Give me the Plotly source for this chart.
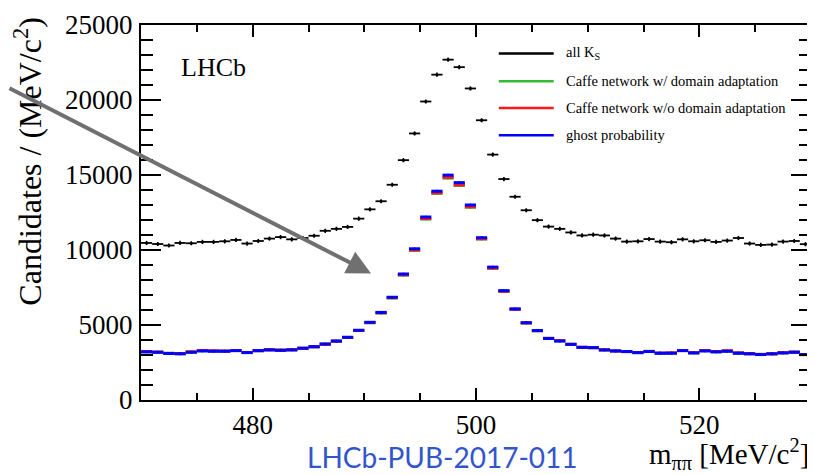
import plotly.graph_objects as go

# ---- data -------------------------------------------------------------
bin_low = 470.0
bin_width = 1.0
n_bins = 60
bin_centers = [bin_low + bin_width * (i + 0.5) for i in range(n_bins)]

all_ks = [10470, 10400, 10300, 10470, 10450, 10540, 10540, 10580, 10670, 10430,
          10600, 10760, 10860, 10710, 10800, 10950, 11280, 11410, 11540, 12090,
          12710, 13250, 14350, 15990, 17770, 19900, 21690, 22690, 22190, 20770,
          18650, 16360, 14730, 13550, 12650, 11990, 11560, 11410, 11170, 10970,
          11020, 10970, 10760, 10560, 10580, 10730, 10560, 10520, 10710, 10580,
          10650, 10540, 10630, 10800, 10430, 10340, 10360, 10560, 10600, 10390]

caffe_da = [3220, 3190, 3110, 3090, 3200, 3290, 3270, 3260, 3300, 3170,
            3290, 3350, 3320, 3350, 3450, 3550, 3720, 3920, 4170, 4630,
            5150, 5800, 6800, 8320, 9970, 12060, 13770, 14790, 14300, 12850,
            10730, 8780, 7240, 6050, 5140, 4620, 4110, 3950, 3710, 3510,
            3490, 3340, 3270, 3230, 3160, 3240, 3120, 3130, 3300, 3150,
            3290, 3220, 3270, 3130, 3090, 3040, 3080, 3150, 3190, 3030]

caffe_noda = [3230, 3190, 3110, 3100, 3210, 3300, 3280, 3260, 3300, 3170,
              3290, 3350, 3330, 3350, 3450, 3550, 3720, 3920, 4170, 4630,
              5160, 5810, 6820, 8350, 10000, 12100, 13810, 14840, 14340, 12880,
              10750, 8790, 7250, 6050, 5140, 4620, 4110, 3960, 3710, 3510,
              3490, 3340, 3270, 3230, 3160, 3240, 3120, 3140, 3300, 3150,
              3300, 3230, 3280, 3140, 3090, 3040, 3080, 3150, 3190, 3030]

ghost_prob = [3210, 3185, 3100, 3080, 3185, 3270, 3250, 3250, 3290, 3160,
              3290, 3340, 3310, 3340, 3450, 3550, 3730, 3930, 4180, 4650,
              5180, 5840, 6850, 8400, 10080, 12200, 13920, 14990, 14490, 13000,
              10820, 8860, 7290, 6070, 5150, 4630, 4100, 3930, 3710, 3510,
              3490, 3340, 3270, 3230, 3160, 3230, 3120, 3120, 3290, 3140,
              3270, 3210, 3250, 3120, 3080, 3030, 3080, 3140, 3185, 3030]

legend_labels = ["all K<sub>S</sub>",
                 "Caffe network w/ domain adaptation",
                 "Caffe network w/o domain adaptation",
                 "ghost probability"]
x_ticks = [480, 500, 520]

# ---- styling ----------------------------------------------------------
BLACK = "#000000"
GREEN = "#33bb33"
RED = "#ff1a1a"
BLUE = "#0000ff"
SERIF = "Liberation Serif"

fig = go.Figure()


def hist_trace(y, color, thick, ysize, msize):
    return go.Scatter(
        x=bin_centers, y=y, mode="markers",
        marker=dict(size=msize, color=color, symbol="circle"),
        error_x=dict(type="constant", value=bin_width / 2, width=0,
                     thickness=thick, color=color),
        error_y=dict(type="constant", value=ysize, width=0,
                     thickness=1.5, color=color),
        hoverinfo="x+y", showlegend=False)


fig.add_trace(hist_trace(all_ks, BLACK, 1.8, 140, 3))
fig.add_trace(hist_trace(caffe_da, GREEN, 3, 90, 2))
fig.add_trace(hist_trace(caffe_noda, RED, 3, 90, 2))
fig.add_trace(hist_trace(ghost_prob, BLUE, 3, 90, 2))

# the page body adds an 8px offset, so the figure is sized to fill the window
fig.update_layout(
    width=807, height=467,
    margin=dict(l=133, r=2, t=11, b=75),
    plot_bgcolor="white", paper_bgcolor="white",
    showlegend=False,
    font=dict(family=SERIF, color=BLACK),
)

fig.update_xaxes(
    range=[470, 530], tickvals=x_ticks, ticks="inside", ticklen=12,
    tickwidth=1.5, tickcolor=BLACK,
    minor=dict(dtick=5, tick0=470, ticks="inside", ticklen=7,
               tickwidth=1.5, tickcolor=BLACK),
    showline=True, linewidth=2, linecolor=BLACK, mirror="ticks",
    showgrid=False, zeroline=False,
    tickfont=dict(family=SERIF, size=27, color=BLACK),
    ticklabelstandoff=0, ticklabeloverflow="allow",
)
fig.update_yaxes(
    range=[0, 25000], dtick=5000, tickformat="d", ticks="inside",
    ticklen=20, tickwidth=1.5, tickcolor=BLACK,
    minor=dict(dtick=1000, ticks="inside", ticklen=12,
               tickwidth=1.5, tickcolor=BLACK),
    showline=True, linewidth=2, linecolor=BLACK, mirror="ticks",
    showgrid=False, zeroline=False,
    tickfont=dict(family=SERIF, size=27, color=BLACK),
    ticklabelstandoff=1, ticklabeloverflow="allow",
)

# ---- axis titles, labels ------------------------------------------------
fig.add_annotation(
    text="Candidates / (MeV/c<sup>2</sup>)", textangle=-90,
    xref="paper", yref="paper", x=-0.169, y=0.635,
    xanchor="center", yanchor="middle", showarrow=False,
    font=dict(family=SERIF, size=32, color=BLACK))
fig.add_annotation(
    text="m<sub>ππ</sub> [MeV/c<sup>2</sup>]",
    xref="paper", yref="paper", x=1.0, y=-0.143,
    xanchor="right", yanchor="middle", showarrow=False,
    font=dict(family=SERIF, size=29, color=BLACK))
fig.add_annotation(
    text="LHCb", xref="paper", yref="paper", x=0.056, y=0.887,
    xanchor="left", yanchor="middle", showarrow=False,
    font=dict(family=SERIF, size=26, color=BLACK))
fig.add_annotation(
    text="LHCb-PUB-2017-011", xref="paper", yref="paper", x=0.245, y=-0.153,
    xanchor="left", yanchor="middle", showarrow=False,
    font=dict(family="Lato", size=28, color="#3355cc"))

# ---- legend (drawn manually to match ROOT layout) -------------------------
leg_colors = [BLACK, GREEN, RED, BLUE]
leg_y = [0.924, 0.850, 0.779, 0.706]
for lab, col, yy in zip(legend_labels, leg_colors, leg_y):
    fig.add_shape(type="line", xref="paper", yref="paper",
                  x0=0.534, x1=0.616, y0=yy, y1=yy,
                  line=dict(color=col, width=2.5))
    fig.add_annotation(text=lab, xref="paper", yref="paper", x=0.632, y=yy,
                       xanchor="left", yanchor="middle", showarrow=False,
                       font=dict(family=SERIF, size=14.5, color=BLACK))

# ---- gray arrow -----------------------------------------------------------
fig.add_annotation(
    x=490.6, y=8440, xref="x", yref="y", text="",
    showarrow=True, ax=-372, ay=-186, axref="pixel", ayref="pixel",
    arrowhead=2, arrowsize=1.2, arrowwidth=4, arrowcolor="#707070")

fig.write_html("out.html")
